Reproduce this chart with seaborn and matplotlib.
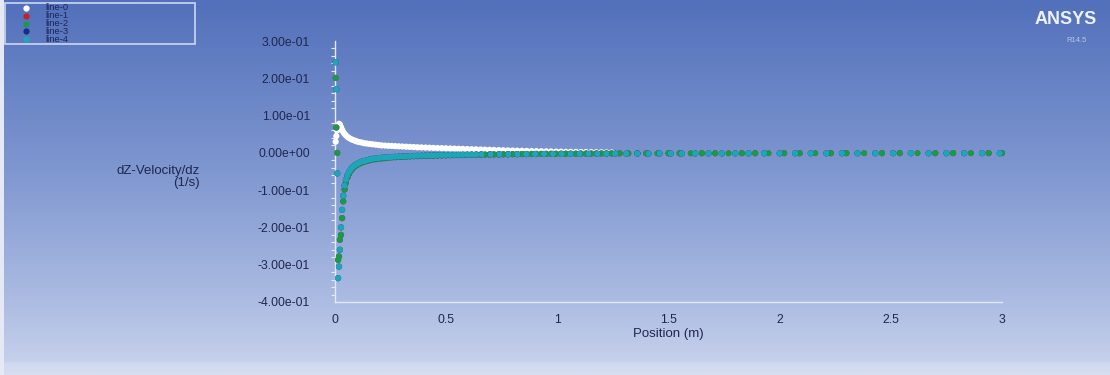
import numpy as np
import pandas as pd
import matplotlib
matplotlib.use("Agg")
import matplotlib.pyplot as plt
from matplotlib.colors import LinearSegmentedColormap
from matplotlib.lines import Line2D
from matplotlib.patches import Rectangle
from matplotlib.ticker import MultipleLocator, FixedLocator, FixedFormatter
import seaborn as sns

# ---------------------------------------------------------------- data
series_names = ["line-0", "line-1", "line-2", "line-3", "line-4"]
series_colors = ["#ffffff", "#c8202a", "#179a4c", "#1a2a8a", "#1fa6b6"]

x_ticks = [0, 0.5, 1, 1.5, 2, 2.5, 3]
x_tick_labels = ["0", "0.5", "1", "1.5", "2", "2.5", "3"]
y_ticks = [0.3, 0.2, 0.1, 0.0, -0.1, -0.2, -0.3, -0.4]
y_tick_labels = ["3.00e-01", "2.00e-01", "1.00e-01", "0.00e+00",
                 "-1.00e-01", "-2.00e-01", "-3.00e-01", "-4.00e-01"]

# refined mesh positions near the inlet (m)
pos_near = [
    0.003, 0.006, 0.010, 0.014, 0.018, 0.022, 0.027, 0.032, 0.037, 0.043,
    0.049, 0.056, 0.063, 0.071, 0.079, 0.088, 0.097, 0.107, 0.118, 0.130,
    0.142, 0.155, 0.168, 0.182, 0.196, 0.210, 0.225, 0.240, 0.255, 0.271,
    0.287, 0.303, 0.320, 0.337, 0.354, 0.371, 0.389, 0.407, 0.425, 0.443,
    0.461, 0.480, 0.499, 0.518, 0.537, 0.556, 0.575, 0.595, 0.615, 0.635,
    0.655, 0.675, 0.695, 0.715, 0.736, 0.757, 0.778, 0.799, 0.820, 0.841,
    0.862, 0.884, 0.906, 0.928, 0.950, 0.972, 0.994, 1.016, 1.038, 1.060,
    1.083, 1.106, 1.129, 1.152, 1.175, 1.198, 1.221, 1.244,
]

# line-0
line0_near = [
    0.030, 0.045, 0.060, 0.072, 0.078, 0.076, 0.069, 0.062, 0.056, 0.051,
    0.047, 0.043, 0.040, 0.037, 0.035, 0.033, 0.031, 0.029, 0.028, 0.026,
    0.025, 0.024, 0.023, 0.022, 0.021, 0.020, 0.0195, 0.019, 0.0185, 0.018,
    0.0175, 0.017, 0.0165, 0.016, 0.0155, 0.015, 0.0146, 0.0142, 0.0138, 0.0134,
    0.0130, 0.0126, 0.0122, 0.0118, 0.0114, 0.0110, 0.0106, 0.0102, 0.0098, 0.0094,
    0.0090, 0.0086, 0.0082, 0.0078, 0.0074, 0.0070, 0.0066, 0.0062, 0.0058, 0.0055,
    0.0052, 0.0049, 0.0046, 0.0043, 0.0040, 0.0037, 0.0034, 0.0031, 0.0028, 0.0026,
    0.0024, 0.0022, 0.0020, 0.0018, 0.0016, 0.0014, 0.0012, 0.0010,
]
line0_far_pos = [1.32, 1.45, 1.60, 1.77, 1.95, 2.16, 2.38, 2.62, 2.86]
line0_far = [-0.0010, -0.0010, -0.0009, -0.0009, -0.0008, -0.0008, -0.0008, -0.0007, -0.0007]

# line-2
line2_near = [
    0.201, 0.068, 0.000, -0.287, -0.278, -0.233, -0.220, -0.175, -0.130, -0.098,
    -0.080, -0.066, -0.056, -0.048, -0.042, -0.037, -0.033, -0.030, -0.027, -0.024,
    -0.022, -0.020, -0.018, -0.017, -0.016, -0.015, -0.014, -0.013, -0.012, -0.0115,
    -0.0110, -0.0105, -0.0100, -0.0095, -0.0090, -0.0087, -0.0084, -0.0081, -0.0078, -0.0075,
    -0.0072, -0.0069, -0.0066, -0.0063, -0.0060, -0.0058, -0.0056, -0.0054, -0.0052, -0.0050,
    -0.0048, -0.0046, -0.0044, -0.0042, -0.0040, -0.0038, -0.0036, -0.0034, -0.0033, -0.0032,
    -0.0031, -0.0030, -0.0029, -0.0028, -0.0027, -0.0026, -0.0025, -0.0024, -0.0023, -0.0022,
    -0.0021, -0.0020, -0.0019, -0.0018, -0.0017, -0.0016, -0.0015, -0.0014,
]
line2_far_pos = [1.28, 1.32, 1.36, 1.40, 1.45, 1.50, 1.55, 1.60, 1.65, 1.71,
                 1.77, 1.83, 1.89, 1.95, 2.02, 2.09, 2.16, 2.23, 2.30, 2.38,
                 2.46, 2.54, 2.62, 2.70, 2.78, 2.86, 2.94, 3.00]
line2_far = [-0.0013, -0.0013, -0.0012, -0.0012, -0.0012, -0.0011, -0.0011, -0.0011, -0.0010, -0.0010,
             -0.0010, -0.0010, -0.0009, -0.0009, -0.0009, -0.0009, -0.0008, -0.0008, -0.0008, -0.0008,
             -0.0008, -0.0007, -0.0007, -0.0007, -0.0007, -0.0007, -0.0007, -0.0007]

# line-4 (refined part covers the first 50 near-inlet positions)
line4_near = [
    0.243, 0.171, -0.055, -0.336, -0.305, -0.260, -0.200, -0.153, -0.115, -0.088,
    -0.072, -0.060, -0.051, -0.044, -0.038, -0.034, -0.030, -0.027, -0.024, -0.022,
    -0.020, -0.018, -0.016, -0.015, -0.014, -0.013, -0.012, -0.0115, -0.0110, -0.0105,
    -0.0100, -0.0095, -0.0090, -0.0086, -0.0082, -0.0078, -0.0075, -0.0072, -0.0069, -0.0066,
    -0.0063, -0.0060, -0.0058, -0.0056, -0.0054, -0.0052, -0.0050, -0.0048, -0.0046, -0.0044,
]
line4_far_pos = [0.66, 0.70, 0.74, 0.78, 0.82, 0.86, 0.90, 0.94, 0.98, 1.02,
                 1.06, 1.10, 1.14, 1.18, 1.22, 1.26, 1.31, 1.36, 1.41, 1.46,
                 1.51, 1.56, 1.62, 1.68, 1.74, 1.80, 1.86, 1.93, 2.00, 2.07,
                 2.14, 2.21, 2.28, 2.35, 2.43, 2.51, 2.59, 2.67, 2.75, 2.83,
                 2.91, 2.99]
line4_far = [-0.0043, -0.0041, -0.0039, -0.0037, -0.0035, -0.0033, -0.0031, -0.0030, -0.0029, -0.0028,
             -0.0027, -0.0026, -0.0025, -0.0024, -0.0023, -0.0022, -0.0021, -0.0020, -0.0019, -0.0018,
             -0.0017, -0.0016, -0.0016, -0.0015, -0.0015, -0.0014, -0.0014, -0.0013, -0.0013, -0.0012,
             -0.0012, -0.0012, -0.0011, -0.0011, -0.0011, -0.0010, -0.0010, -0.0010, -0.0010, -0.0009,
             -0.0009, -0.0009]

# line-1 lies on line-2 and line-3 lies on line-4
line1_near, line1_far_pos, line1_far = list(line2_near), list(line2_far_pos), list(line2_far)
line3_near, line3_far_pos, line3_far = list(line4_near), list(line4_far_pos), list(line4_far)

# ---------------------------------------------------------------- frame
def series_frame(name, pos, vals):
    return pd.DataFrame({"position": pos, "value": vals, "series": name})

df = pd.concat([
    series_frame("line-0", pos_near + line0_far_pos, line0_near + line0_far),
    series_frame("line-1", pos_near + line1_far_pos, line1_near + line1_far),
    series_frame("line-2", pos_near + line2_far_pos, line2_near + line2_far),
    series_frame("line-3", pos_near[:len(line3_near)] + line3_far_pos, line3_near + line3_far),
    series_frame("line-4", pos_near[:len(line4_near)] + line4_far_pos, line4_near + line4_far),
], ignore_index=True)

# ---------------------------------------------------------------- style
sns.set_theme(style="white")
plt.rcParams["font.family"] = ["Liberation Sans", "DejaVu Sans"]

W, H = 1110, 375
fig = plt.figure(figsize=(W / 100, H / 100), dpi=100)

# blue gradient backdrop
bg = fig.add_axes([0, 0, 1, 1], zorder=-10)
bg.set_axis_off()
bg_cmap = LinearSegmentedColormap.from_list(
    "backdrop",
    [(0.0, "#5270bb"), (0.45, "#7f97d0"), (0.8, "#abbbe2"),
     (0.966, "#c5d0eb"), (0.972, "#cfd9f0"), (1.0, "#d6def1")])
bg.imshow(np.linspace(0, 1, 400).reshape(-1, 1), aspect="auto", cmap=bg_cmap,
          extent=[0, 1, 0, 1], origin="upper")
bg.add_patch(Rectangle((0, 0), 4 / W, 1, color="#e4e9f5", lw=0))
bg.set_xlim(0, 1)
bg.set_ylim(0, 1)

ax = fig.add_axes([335 / W, 1 - 302 / H, 667 / W, 261 / H])
ax.patch.set_visible(False)

palette = dict(zip(series_names, series_colors))
sns.scatterplot(data=df, x="position", y="value", hue="series",
                hue_order=series_names, palette=palette, s=20, linewidth=0,
                legend=False, ax=ax, clip_on=False, zorder=3)

ax.set_xlim(0, 3)
ax.set_ylim(-0.4, 0.3)

axis_color = "#e3e9f6"
label_color = "#20264f"
for side in ("top", "right"):
    ax.spines[side].set_visible(False)
for side in ("left", "bottom"):
    ax.spines[side].set_color(axis_color)
    ax.spines[side].set_linewidth(1.0)

ax.xaxis.set_major_locator(FixedLocator(x_ticks))
ax.xaxis.set_major_formatter(FixedFormatter(x_tick_labels))
ax.yaxis.set_major_locator(FixedLocator(y_ticks))
ax.yaxis.set_major_formatter(FixedFormatter(y_tick_labels))
ax.yaxis.set_minor_locator(MultipleLocator(0.02))

ax.tick_params(axis="y", which="major", direction="out", length=6, width=1,
               color=axis_color, pad=12, labelsize=8.7, labelcolor=label_color)
ax.tick_params(axis="y", which="minor", direction="out", length=3, width=0.8,
               color=axis_color, left=True)
ax.tick_params(axis="x", which="major", direction="out", length=2.5, width=1,
               color=axis_color, pad=6, labelsize=8.7, labelcolor=label_color)

ax.set_xlabel("Position (m)", fontsize=9.5, color=label_color, va="center")
ax.xaxis.set_label_coords(0.5, -0.123)
ax.set_ylabel("dZ-Velocity/dz\n(1/s)", fontsize=9.5, color=label_color,
              rotation=0, ha="right", va="center", multialignment="right",
              linespacing=0.95)
ax.yaxis.set_label_coords(-0.2024, 0.479)

# legend block (top-left)
fig.patches.append(Rectangle((5 / W, 1 - 44 / H), 190 / W, 41 / H,
                             transform=fig.transFigure, fill=False,
                             ec="#cdd7f1", lw=1.2))
for i, (name, color) in enumerate(zip(series_names, series_colors)):
    yy = 1 - (8 + i * 7.8) / H
    fig.lines.append(Line2D([26 / W], [yy], marker="o", ms=4.5, color=color,
                            mec="none", linestyle="none",
                            transform=fig.transFigure))
    fig.text(45 / W, yy, name, fontsize=6.8, color="#1e2558", va="center")

# product mark
fig.text(1066 / W, 1 - 20 / H, "ANSYS", fontsize=13, weight="bold",
         color="#eef2fb", ha="center", va="center")
fig.text(1087 / W, 1 - 40 / H, "R14.5", fontsize=5.5, color="#b9c7e8",
         ha="right", va="center")

fig.savefig("out.png", dpi=100)
